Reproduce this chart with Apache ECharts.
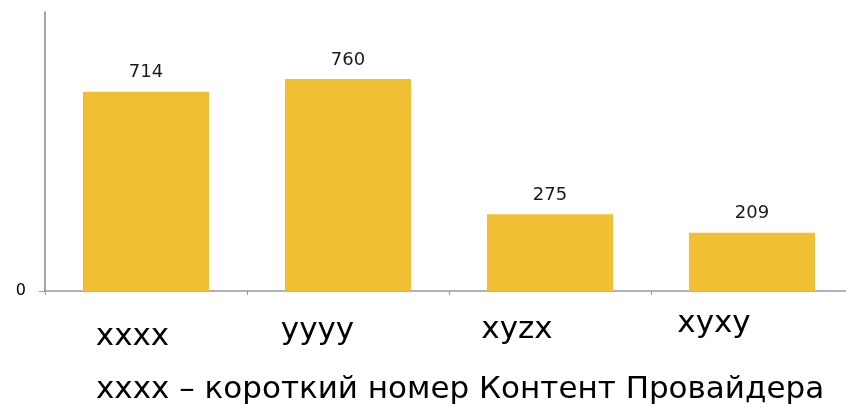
<!DOCTYPE html>
<html>
<head>
<meta charset="utf-8">
<script src="https://cdn.jsdelivr.net/npm/echarts@6/dist/echarts.min.js"></script>
<style>
  html, body { margin: 0; padding: 0; background: #ffffff; overflow: hidden; }
  /* ось X в исходнике уходит за правый край картинки */
  #main { width: 853px; height: 405px; }
</style>
</head>
<body>
<div id="main"></div>
<script>
    // данные диаграммы
    var categories = ['xxxx', 'yyyy', 'xyzx', 'xyxy'];
    var values = [714, 760, 275, 209];
    var yTicks = [0];
    var subtitle = 'xxxx – короткий номер Контент Провайдера';

    // сдвиги подписей категорий (в исходнике они стоят неровно)
    var labelPad = [
        [13, 27, 0, 0],
        [7, 61, 0, 0],
        [6, 66, 0, 0],
        [0, 76, 0, 0]
    ];

    var font = 'DejaVu Sans, Verdana, sans-serif';
    var rich = {};
    categories.forEach(function (c, i) {
        rich['c' + i] = {
            fontSize: 31,
            fontFamily: font,
            color: '#000000',
            padding: labelPad[i]
        };
    });

    var myChart = echarts.init(document.getElementById('main'));
    var option = {
        backgroundColor: '#ffffff',
        animation: false,
        title: {
            text: subtitle,
            left: 96,
            top: 374,
            padding: 0,
            textStyle: {
                fontSize: 31,
                fontWeight: 'normal',
                fontFamily: font,
                color: '#000000'
            }
        },
        grid: {
            left: 45,
            top: 12,
            right: 0,
            bottom: 114,
            containLabel: false
        },
        xAxis: {
            type: 'category',
            data: categories,
            axisLine: { lineStyle: { color: '#999999', width: 1.5 } },
            axisTick: { show: true, length: 4, lineStyle: { color: '#999999' } },
            axisLabel: {
                margin: 17,
                formatter: function (v, i) {
                    return '{c' + i + '|' + v + '}';
                },
                rich: rich
            }
        },
        yAxis: {
            type: 'value',
            min: 0,
            max: 1000,
            interval: 1000,
            splitLine: { show: false },
            axisLine: { show: true, lineStyle: { color: '#888888', width: 1.5 } },
            axisTick: { show: true, length: 6, customValues: yTicks, lineStyle: { color: '#999999' } },
            axisLabel: {
                customValues: yTicks,
                margin: 19,
                fontSize: 16,
                fontFamily: font,
                color: '#000000'
            }
        },
        series: [{
            type: 'bar',
            data: values,
            barCategoryGap: '37.6%',
            itemStyle: { color: '#F0BF33' },
            label: {
                show: true,
                position: 'top',
                distance: 10,
                fontSize: 18,
                fontFamily: font,
                color: '#1a1a1a'
            }
        }]
    };

    myChart.setOption(option);
</script>
</body>
</html>
